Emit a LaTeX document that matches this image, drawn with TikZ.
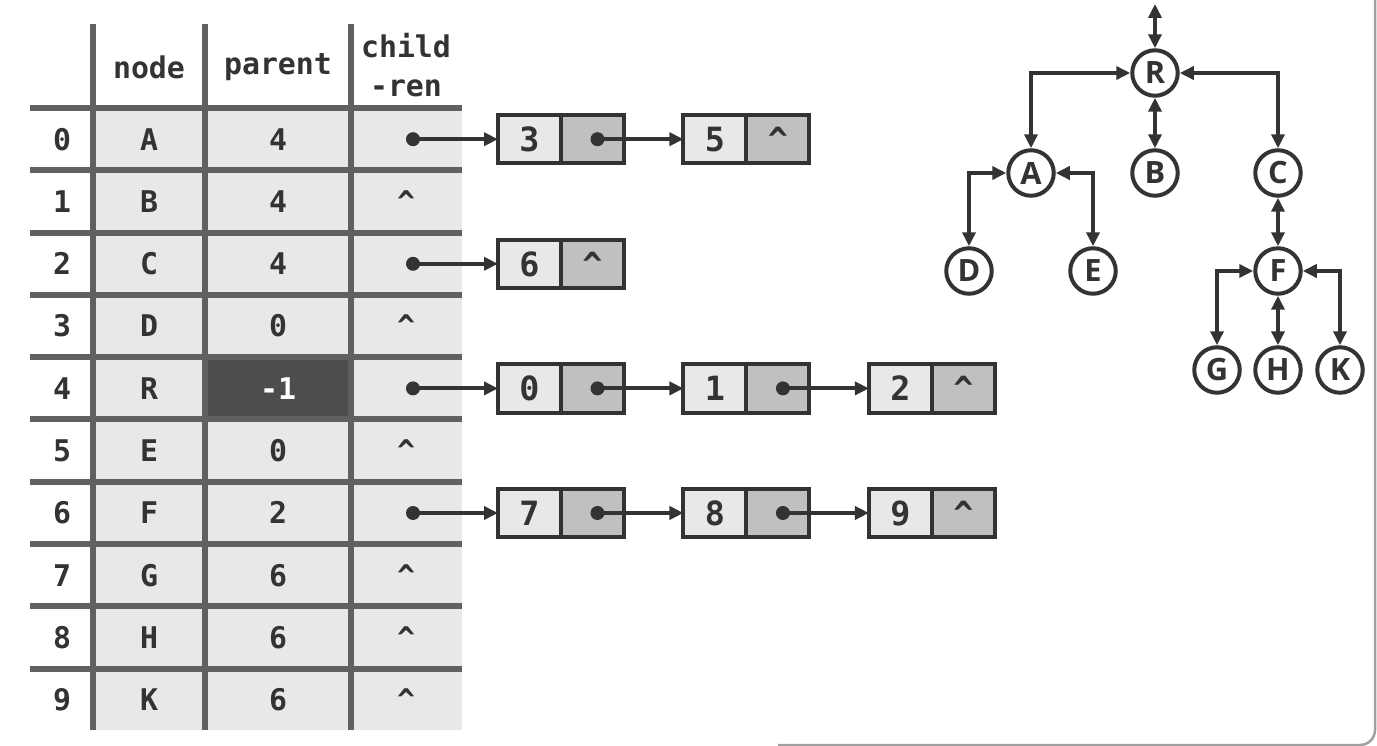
\documentclass[tikz,border=0pt]{standalone}
\usepackage{fontspec}
\setmonofont{DejaVu Sans Mono}
\newfontfamily\treefont{Open Sans}
\usetikzlibrary{positioning,arrows.meta}

\definecolor{ink}{HTML}{333333}
\definecolor{gridgray}{HTML}{606060}
\definecolor{cellgray}{HTML}{E8E8E8}
\definecolor{ptrgray}{HTML}{C0C0C0}
\definecolor{darkcell}{HTML}{4D4D4D}
\definecolor{edgegray}{HTML}{A0A0A0}

\newcommand{\tabfont}{\fontsize{17}{19}\selectfont\ttfamily\bfseries}
\newcommand{\listfont}{\fontsize{19}{22}\selectfont\ttfamily\bfseries}
\newcommand{\circfont}{\fontsize{17.5}{20}\selectfont\treefont\bfseries}

\tikzset{
	gridline/.style={gridgray, line width=0.12cm},
	cell/.style={text=ink, font=\tabfont, inner sep=0pt, text height=12.4pt, text depth=0pt},
	head/.style={text=ink, font=\tabfont, inner sep=0pt},
	valbox/.style={draw=ink, fill=cellgray, line width=0.08cm, minimum width=1.26cm,
		minimum height=0.97cm, inner sep=0pt, outer sep=0pt, text=ink, font=\listfont,
		text height=13.9pt, text depth=0pt},
	ptrbox/.style={valbox, fill=ptrgray},
	link/.style={ink, line width=0.08cm, -{Triangle[length=0.28cm,width=0.26cm]}},
	tnode/.style={circle, draw=ink, fill=white, line width=0.08cm, minimum size=0.91cm,
		inner sep=0pt, text=ink, font=\circfont},
	tedge/.style={ink, line width=0.08cm,
		{Triangle[length=0.28cm,width=0.26cm]}-{Triangle[length=0.28cm,width=0.26cm]}}
}

\begin{document}
\begin{tikzpicture}[x=0.02cm, y=-0.02cm]
	\useasboundingbox (0,0) rectangle (1377,746);

	% table
	\fill[cellgray] (93,108) rectangle (462,730);
	\fill[darkcell] (205,357.2) rectangle (351,419.5);
	\foreach \k in {0,...,9}
		\draw[gridline] (30,{108+62.3*\k}) -- (462,{108+62.3*\k});
	\foreach \x in {93,205,351}
		\draw[gridline] (\x,24) -- (\x,730);

	\node[head] (hnode) at (149,67) {node};
	\node[head] (hparent) at (278,67) {parent};
	\node[head] (hchild) at (406,46) {child};
	\node[head] (hren) at (406,88) {-ren};

	\foreach \i/\n/\p/\c in {0/A/4/ink,1/B/4/ink,2/C/4/ink,3/D/0/ink,4/R/-1/white,
			5/E/0/ink,6/F/2/ink,7/G/6/ink,8/H/6/ink,9/K/6/ink} {
		\node[cell] (i\i) at (62,{139.2+62.3*\i}) {\i};
		\node[cell] (n\i) at (149,{139.2+62.3*\i}) {\n};
		\node[cell, text=\c] (p\i) at (278,{139.2+62.3*\i}) {\p};
	}
	\foreach \i in {1,3,5,7,8,9}
		\node[cell] (c\i) at (406,{139.2+62.3*\i}) {\textasciicircum};
	\foreach \i in {0,2,4,6} {
		\coordinate (t\i) at (413,{139.2+62.3*\i});
		\fill[ink] (t\i) circle (0.14cm);
	}

	% child lists
	\node[valbox] (v0a) at (529.5,139.2) {3};
	\node[ptrbox, right=0pt of v0a] (q0a) {};
	\node[valbox, right=1.19cm of q0a] (v0b) {5};
	\node[ptrbox, right=0pt of v0b] (q0b) {\textasciicircum};

	\node[valbox] (v2a) at (529.5,263.8) {6};
	\node[ptrbox, right=0pt of v2a] (q2a) {\textasciicircum};

	\node[valbox] (v4a) at (529.5,388.4) {0};
	\node[ptrbox, right=0pt of v4a] (q4a) {};
	\node[valbox, right=1.19cm of q4a] (v4b) {1};
	\node[ptrbox, right=0pt of v4b] (q4b) {};
	\node[valbox, right=1.19cm of q4b] (v4c) {2};
	\node[ptrbox, right=0pt of v4c] (q4c) {\textasciicircum};

	\node[valbox] (v6a) at (529.5,513) {7};
	\node[ptrbox, right=0pt of v6a] (q6a) {};
	\node[valbox, right=1.19cm of q6a] (v6b) {8};
	\node[ptrbox, right=0pt of v6b] (q6b) {};
	\node[valbox, right=1.19cm of q6b] (v6c) {9};
	\node[ptrbox, right=0pt of v6c] (q6c) {\textasciicircum};

	\foreach \q in {q0a,q4a,q4b,q6a,q6b} {
		\coordinate (d\q) at ([xshift=0.1cm]\q.center);
		\fill[ink] (d\q) circle (0.14cm);
	}
	\draw[link] (t0) -- (v0a);
	\draw[link] (dq0a) -- (v0b);
	\draw[link] (t2) -- (v2a);
	\draw[link] (t4) -- (v4a);
	\draw[link] (dq4a) -- (v4b);
	\draw[link] (dq4b) -- (v4c);
	\draw[link] (t6) -- (v6a);
	\draw[link] (dq6a) -- (v6b);
	\draw[link] (dq6b) -- (v6c);

	% tree
	\node[tnode] (R) at (1155,73) {R};
	\node[tnode] (A) at (1031,173) {A};
	\node[tnode] (B) at (1155,173) {B};
	\node[tnode] (C) at (1278,173) {C};
	\node[tnode] (D) at (969,271) {D};
	\node[tnode] (E) at (1093,271) {E};
	\node[tnode] (F) at (1278,271) {F};
	\node[tnode] (G) at (1217,370) {G};
	\node[tnode] (H) at (1278,370) {H};
	\node[tnode] (K) at (1340,370) {K};
	\coordinate (top) at (1155,4);

	\draw[tedge] (top) -- (R);
	\draw[tedge] (A) |- (R);
	\draw[tedge] (R) -- (B);
	\draw[tedge] (C) |- (R);
	\draw[tedge] (D) |- (A);
	\draw[tedge] (E) |- (A);
	\draw[tedge] (C) -- (F);
	\draw[tedge] (G) |- (F);
	\draw[tedge] (F) -- (H);
	\draw[tedge] (K) |- (F);

	% page edge
	\draw[edgegray, line width=0.05cm, rounded corners=0.3cm]
		(1375,0) -- (1375,745) -- (778,745);
\end{tikzpicture}
\end{document}
